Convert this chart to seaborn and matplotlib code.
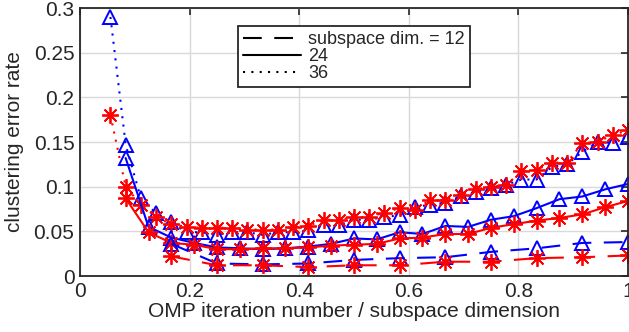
import numpy as np
import pandas as pd
import seaborn as sns
import matplotlib
matplotlib.use("Agg")
import matplotlib.pyplot as plt
from matplotlib.lines import Line2D

# ---- data ----
x12 = [k / 12 for k in range(2, 13)]
x24 = [k / 24 for k in range(2, 25)]
x36 = [k / 36 for k in range(2, 37)]

blue12 = [0.036, 0.014, 0.013, 0.014, 0.018, 0.020, 0.021, 0.027, 0.031, 0.037, 0.038]
red12 = [0.022, 0.012, 0.012, 0.010, 0.012, 0.012, 0.016, 0.016, 0.020, 0.021, 0.023]

blue24 = [0.132, 0.055, 0.043, 0.037, 0.032, 0.031, 0.030, 0.031, 0.033, 0.036, 0.042,
          0.041, 0.049, 0.047, 0.056, 0.055, 0.063, 0.067, 0.076, 0.086, 0.089, 0.097, 0.103]
red24 = [0.087, 0.049, 0.037, 0.035, 0.030, 0.030, 0.031, 0.031, 0.032, 0.034, 0.035,
         0.036, 0.042, 0.043, 0.047, 0.047, 0.054, 0.058, 0.062, 0.065, 0.069, 0.077, 0.084]

blue36 = [0.290, 0.147, 0.087, 0.070, 0.060, 0.049, 0.049, 0.046, 0.049, 0.049, 0.046,
          0.049, 0.049, 0.051, 0.057, 0.057, 0.063, 0.063, 0.066, 0.068, 0.077, 0.080,
          0.082, 0.089, 0.094, 0.099, 0.102, 0.108, 0.108, 0.122, 0.125, 0.139, 0.150,
          0.149, 0.156]
red36 = [0.180, 0.100, 0.080, 0.066, 0.058, 0.055, 0.054, 0.054, 0.054, 0.052, 0.052,
         0.052, 0.055, 0.056, 0.063, 0.063, 0.066, 0.066, 0.071, 0.076, 0.074, 0.085,
         0.085, 0.091, 0.097, 0.100, 0.102, 0.117, 0.119, 0.127, 0.127, 0.149, 0.150,
         0.158, 0.163]

legend_labels = ["subspace dim. = 12", "24", "36"]
xticks = [0, 0.2, 0.4, 0.6, 0.8, 1]
yticks = [0, 0.05, 0.1, 0.15, 0.2, 0.25, 0.3]
ytick_labels = ["0", "0.05", "0.1", "0.15", "0.2", "0.25", "0.3"]
xtick_labels = ["0", "0.2", "0.4", "0.6", "0.8", "1"]

# ---- style ----
sns.set_style("white")
plt.rcParams["font.family"] = ["Liberation Sans", "DejaVu Sans"]
TXT = "#262626"

fig = plt.figure(figsize=(6.29, 3.32), dpi=100)
ax = fig.add_axes([80 / 629, 1 - 276 / 332, 548 / 629, 268 / 332])

BLUE = "#0000ff"
RED = "#ff0000"
dash_ls = (0, (9, 6))
dot_ls = (0, (1, 3))
asterisk = (8, 2, 0)

series = [
    (x36, blue36, BLUE, dot_ls, "^"),
    (x36, red36, RED, dot_ls, asterisk),
    (x24, blue24, BLUE, "-", "^"),
    (x24, red24, RED, "-", asterisk),
    (x12, blue12, BLUE, dash_ls, "^"),
    (x12, red12, RED, dash_ls, asterisk),
]

for xs, ys, col, ls, mk in series:
    df = pd.DataFrame({"x": xs, "y": ys})
    if mk == "^":
        sns.lineplot(data=df, x="x", y="y", ax=ax, color=col, linestyle=ls, lw=1.5,
                     marker="^", markersize=10, markerfacecolor="none",
                     markeredgecolor=col, markeredgewidth=1.4)
    else:
        sns.lineplot(data=df, x="x", y="y", ax=ax, color=col, linestyle=ls, lw=1.5,
                     marker=mk, markersize=12, markeredgecolor=col,
                     markeredgewidth=1.3)

ax.set_xlim(0, 1)
ax.set_ylim(0, 0.3)
ax.set_xticks(xticks)
ax.set_xticklabels(xtick_labels)
ax.set_yticks(yticks)
ax.set_yticklabels(ytick_labels)
ax.set_xlabel("OMP iteration number / subspace dimension", fontsize=15, color=TXT, labelpad=1)
ax.set_ylabel("clustering error rate", fontsize=15, color=TXT, labelpad=7)
ax.tick_params(axis="both", which="both", direction="in", length=5, width=1.2,
               labelsize=15, colors=TXT, top=True, right=True, pad=4)
ax.grid(True, color="#d9d9d9", lw=1.0)
ax.set_axisbelow(True)
for s in ax.spines.values():
    s.set_visible(True)
    s.set_color(TXT)
    s.set_linewidth(1.3)

handles = [
    Line2D([], [], color="black", lw=1.5, linestyle=(0, (9, 6))),
    Line2D([], [], color="black", lw=1.5, linestyle="-"),
    Line2D([], [], color="black", lw=1.5, linestyle=(0, (1, 3))),
]
leg = ax.legend(handles, legend_labels, loc="upper left", bbox_to_anchor=(0.288, 0.933),
                fontsize=13, frameon=True, fancybox=False, framealpha=1,
                edgecolor=TXT, handlelength=3.2, handletextpad=0.4,
                labelspacing=0.0, borderpad=0.28, borderaxespad=0)
leg.get_frame().set_linewidth(1.3)
for t in leg.get_texts():
    t.set_color(TXT)

fig.savefig("out.png", dpi=100)
